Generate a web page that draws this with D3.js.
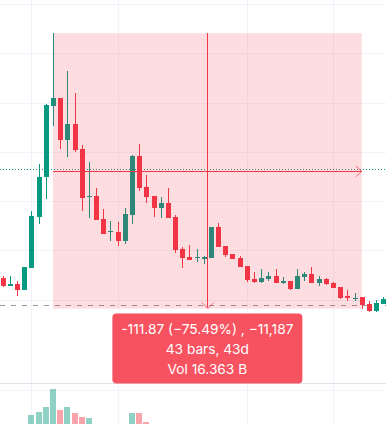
<!DOCTYPE html>
<html>
<head>
<meta charset="utf-8">
<script src="https://cdn.jsdelivr.net/npm/d3@7"></script>
<style>
  html, body { margin: 0; padding: 0; background: #ffffff; }
  #chart { width: 386px; height: 424px; overflow: hidden; }
</style>
</head>
<body>
<div id="chart"></div>
<script>
const width = 386;
const height = 424;

// daily bars, left to right
const open  = [48.85, 45.60, 46.29, 43.98, 52.91, 73.62, 89.74, 118.57, 121.82, 104.77,
               111.27, 101.11, 81.82, 82.03, 72.69, 67.41, 67.53, 63.87, 74.31, 98.27,
               85.68, 82.03, 77.16, 79.19, 73.50, 60.50, 57.26, 56.85, 56.56, 56.97,
               69.44, 61.72, 58.48, 56.97, 53.60, 48.32, 47.10, 48.32, 49.54, 46.70,
               47.51, 44.26, 49.13, 50.35, 46.70, 48.32, 46.70, 45.07, 41.22, 40.40,
               41.01, 38.17, 35.33, 38.17];
const high  = [49.66, 49.54, 47.51, 53.40, 75.93, 95.02, 119.20, 148.19, 122.00, 132.79,
               123.86, 102.74, 95.83, 85.27, 76.74, 71.87, 71.47, 77.16, 98.68, 103.15,
               90.55, 82.20, 81.62, 85.27, 74.31, 61.31, 62.13, 60.50, 57.78, 69.60,
               71.06, 61.80, 58.60, 57.78, 53.70, 51.17, 52.39, 51.17, 52.39, 49.13,
               47.60, 52.39, 51.17, 53.20, 49.54, 48.73, 47.10, 45.20, 43.85, 42.64,
               41.10, 39.39, 39.80, 41.01];
const low   = [45.20, 45.50, 41.54, 43.80, 52.70, 70.78, 80.81, 110.45, 101.11, 97.99,
               99.90, 75.93, 73.22, 72.10, 66.40, 63.87, 61.85, 62.53, 70.66, 84.06,
               79.19, 73.50, 73.09, 72.90, 59.00, 52.91, 56.00, 55.35, 54.53, 56.80,
               61.30, 57.38, 56.40, 53.20, 47.10, 46.90, 46.70, 47.51, 46.50, 46.29,
               43.85, 44.10, 47.51, 46.50, 45.48, 45.88, 44.50, 40.40, 39.39, 39.39,
               36.32, 35.10, 35.10, 38.00];
const close = [45.60, 46.29, 43.98, 53.20, 73.90, 89.74, 118.98, 121.82, 104.77, 111.27,
               100.71, 81.34, 82.23, 72.28, 66.60, 67.94, 63.87, 74.72, 98.27, 85.27,
               81.62, 77.16, 79.19, 73.09, 60.22, 56.97, 56.16, 57.09, 57.38, 69.44,
               61.44, 58.19, 56.56, 53.32, 47.91, 47.10, 48.73, 49.54, 46.70, 47.51,
               44.26, 49.54, 50.35, 46.70, 48.32, 46.29, 44.67, 40.61, 40.81, 40.81,
               37.76, 35.33, 38.58, 40.20];
// volume, billions
const volume = [0.35, 0.25, 0.30, 0.45, 0.67, 0.73, 0.83, 1.17, 0.77, 0.83,
                0.71, 0.63, 0.62, 0.45, 0.38, 0.36, 0.33, 0.42, 0.71, 0.71,
                0.54, 0.40, 0.33, 0.30, 0.47, 0.35, 0.22, 0.20, 0.21, 0.48,
                0.34, 0.27, 0.19, 0.24, 0.35, 0.20, 0.18, 0.17, 0.22, 0.16,
                0.21, 0.26, 0.19, 0.23, 0.17, 0.15, 0.18, 0.33, 0.24, 0.18,
                0.27, 0.32, 0.28, 0.22];

const priceTicks = [40, 60, 80, 100, 120, 140, 160];
const timeTicks = [4, 16, 34, 46];   // bar index of the date grid lines
const dottedPrice = 92.99;
const dashedPrice = 37.76;

// measure tool: from the high of bar 7 to the low of bar 50
const measureFrom = 7;
const measureTo = 50;
const volText = "Vol 16.363 B";

const upColor = "#089981";
const downColor = "#f23645";

const svg = d3.select("#chart")
    .append("svg")
    .attr("width", width)
    .attr("height", height)
    .style("background-color", "#ffffff");

const x = d3.scaleLinear()
    .domain([0, open.length - 1])
    .range([2.74, 2.74 + 53 * 7.18]);

const y = d3.scaleLinear()
    .domain([40, 160])
    .range([299.5, 4]);

const yVol = d3.scaleLinear()
    .domain([0, 1.3])
    .range([450, 382.4]);

const idx = d3.range(open.length);
const isUp = i => close[i] >= open[i];

// grid
svg.append("g").selectAll("line")
    .data(priceTicks)
    .enter().append("line")
    .attr("x1", 0).attr("x2", width)
    .attr("y1", d => Math.round(y(d)) + 0.5)
    .attr("y2", d => Math.round(y(d)) + 0.5)
    .attr("stroke", "#f0f3fa");

svg.append("line")   // volume pane grid
    .attr("x1", 0).attr("x2", width)
    .attr("y1", 390.5).attr("y2", 390.5)
    .attr("stroke", "#f0f3fa");

svg.append("g").selectAll("line")
    .data(timeTicks)
    .enter().append("line")
    .attr("x1", d => Math.round(x(d)) + 0.5)
    .attr("x2", d => Math.round(x(d)) + 0.5)
    .attr("y1", 0).attr("y2", height)
    .attr("stroke", "#f0f3fa");

// pane separator
svg.append("line")
    .attr("x1", 0).attr("x2", width)
    .attr("y1", 383.5).attr("y2", 383.5)
    .attr("stroke", "#e0e3eb");

// price lines
svg.append("line")
    .attr("x1", 0).attr("x2", width)
    .attr("y1", Math.round(y(dottedPrice)) + 0.5)
    .attr("y2", Math.round(y(dottedPrice)) + 0.5)
    .attr("stroke", upColor)
    .attr("stroke-dasharray", "1,2");

svg.append("line")
    .attr("x1", 0).attr("x2", width)
    .attr("y1", Math.round(y(dashedPrice)) + 0.5)
    .attr("y2", Math.round(y(dashedPrice)) + 0.5)
    .attr("stroke", "#9598a1")
    .attr("stroke-dasharray", "5,6");

// volume
svg.append("g").selectAll("rect")
    .data(idx)
    .enter().append("rect")
    .attr("x", i => Math.round(x(i)) - 3)
    .attr("width", 6)
    .attr("y", i => yVol(volume[i]))
    .attr("height", i => yVol(0) - yVol(volume[i]))
    .attr("fill", i => isUp(i) ? upColor : downColor)
    .attr("fill-opacity", 0.45)
    .attr("shape-rendering", "crispEdges");

// candles
const candles = svg.append("g")
    .attr("shape-rendering", "crispEdges")
    .selectAll("g")
    .data(idx)
    .enter().append("g")
    .attr("fill", i => isUp(i) ? upColor : downColor);

candles.append("rect")   // wick
    .attr("x", i => Math.round(x(i)))
    .attr("width", 1)
    .attr("y", i => y(high[i]))
    .attr("height", i => y(low[i]) - y(high[i]));

candles.append("rect")   // body
    .attr("x", i => Math.round(x(i)) - 2)
    .attr("width", 5)
    .attr("y", i => y(Math.max(open[i], close[i])))
    .attr("height", i => Math.max(1, Math.abs(y(open[i]) - y(close[i]))));

// measure box
const p0 = high[measureFrom];
const p1 = low[measureTo];
const bx0 = x(measureFrom), bx1 = x(measureTo);
const by0 = y(p0), by1 = y(p1);
const mx = (bx0 + bx1) / 2;
const my = (by0 + by1) / 2;

svg.append("rect")
    .attr("x", bx0)
    .attr("y", by0)
    .attr("width", bx1 - bx0)
    .attr("height", by1 - by0)
    .attr("fill", downColor)
    .attr("fill-opacity", 0.17);

svg.append("line")
    .attr("x1", bx0).attr("x2", bx1)
    .attr("y1", Math.round(my) + 0.5).attr("y2", Math.round(my) + 0.5)
    .attr("stroke", downColor);

svg.append("line")
    .attr("x1", Math.round(mx) + 0.5).attr("x2", Math.round(mx) + 0.5)
    .attr("y1", by0).attr("y2", by1 - 1)
    .attr("stroke", downColor);

svg.append("path")   // arrow heads
    .attr("d", `M${bx1 - 6},${my - 5}L${bx1},${my + 0.5}L${bx1 - 6},${my + 6}` +
               `M${mx - 5.5},${by1 - 6}L${mx + 0.5},${by1}L${mx + 6.5},${by1 - 6}`)
    .attr("fill", "none")
    .attr("stroke", downColor)
    .attr("stroke-opacity", 0.7);

// label
const diff = p1 - p0;
const pct = diff / p0 * 100;
const ticks = Math.round(diff * 100);
const bars = measureTo - measureFrom;
const labelLines = [
    `-${Math.abs(diff).toFixed(2)} (−${Math.abs(pct).toFixed(2)}%) , −${d3.format(",")(Math.abs(ticks))}`,
    `${bars} bars, ${bars}d`,
    volText
];

svg.append("rect")
    .attr("x", mx - 95)
    .attr("y", by1 + 5)
    .attr("width", 190)
    .attr("height", 70)
    .attr("rx", 4)
    .attr("fill", "#f7525f");

svg.append("g").selectAll("text")
    .data(labelLines)
    .enter().append("text")
    .attr("x", mx)
    .attr("y", (d, i) => by1 + 25.5 + i * 20)
    .attr("text-anchor", "middle")
    .attr("fill", "#ffffff")
    .attr("font-family", "Inter, Roboto, sans-serif")
    .attr("font-size", "13.7px")
    .text(d => d);
</script>
</body>
</html>
